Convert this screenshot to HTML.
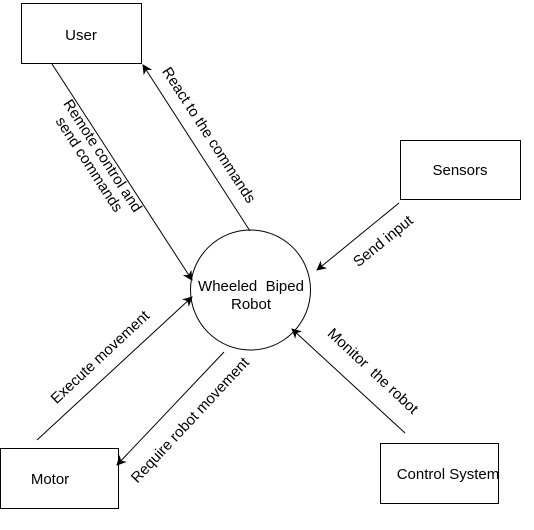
<!DOCTYPE html>
<html><head><style>
body{margin:0;background:#fff;}
svg text{font-family:"Liberation Sans",Arial,sans-serif;font-size:15px;fill:#000;}
</style></head><body>
<svg width="534" height="525" viewBox="0 0 534 525" xmlns="http://www.w3.org/2000/svg">
<defs><marker id="a" markerWidth="10" markerHeight="10" refX="9" refY="5" orient="auto" markerUnits="userSpaceOnUse"><path d="M0,0 L10,5 L0,10 L3,5 Z" fill="#000"/></marker></defs>
<g fill="none" stroke="#000" stroke-width="1">
<rect x="21.5" y="3.5" width="120" height="60"/>
<rect x="400.5" y="140.5" width="120" height="59"/>
<rect x="0.5" y="448.5" width="118" height="60"/>
<rect x="380.5" y="443.5" width="118" height="60"/>
<circle cx="250.5" cy="290" r="60"/>
<line x1="52" y1="64" x2="192" y2="280" marker-end="url(#a)"/>
<line x1="250" y1="231" x2="143" y2="65" marker-end="url(#a)"/>
<line x1="399" y1="203" x2="317" y2="270" marker-end="url(#a)"/>
<line x1="37" y1="440" x2="192" y2="297" marker-end="url(#a)"/>
<line x1="224" y1="352" x2="117" y2="465" marker-end="url(#a)"/>
<line x1="405" y1="433" x2="292" y2="329" marker-end="url(#a)"/>
</g>
<text x="81" y="40" text-anchor="middle">User</text>
<text x="460" y="175" text-anchor="middle">Sensors</text>
<text x="50" y="484" text-anchor="middle">Motor</text>
<text x="448" y="479" text-anchor="middle">Control System</text>
<text x="251" y="291" text-anchor="middle" xml:space="preserve">Wheeled  Biped</text>
<text x="251" y="309" text-anchor="middle">Robot</text>
<text transform="translate(96,160) rotate(57)" text-anchor="middle"><tspan x="0" y="-3">Remote control and</tspan><tspan x="0" y="13">send commands</tspan></text>
<text transform="translate(209,135) rotate(57)" text-anchor="middle" y="5">React to the commands</text>
<text transform="translate(383,241) rotate(-39)" text-anchor="middle" y="5">Send input</text>
<text transform="translate(100,357) rotate(-43)" text-anchor="middle" y="5">Execute movement</text>
<text transform="translate(190,420) rotate(-47)" text-anchor="middle" y="5">Require robot movement</text>
<text transform="translate(373,371) rotate(43)" text-anchor="middle" y="5" xml:space="preserve">Monitor  the robot</text>
</svg>
</body></html>
